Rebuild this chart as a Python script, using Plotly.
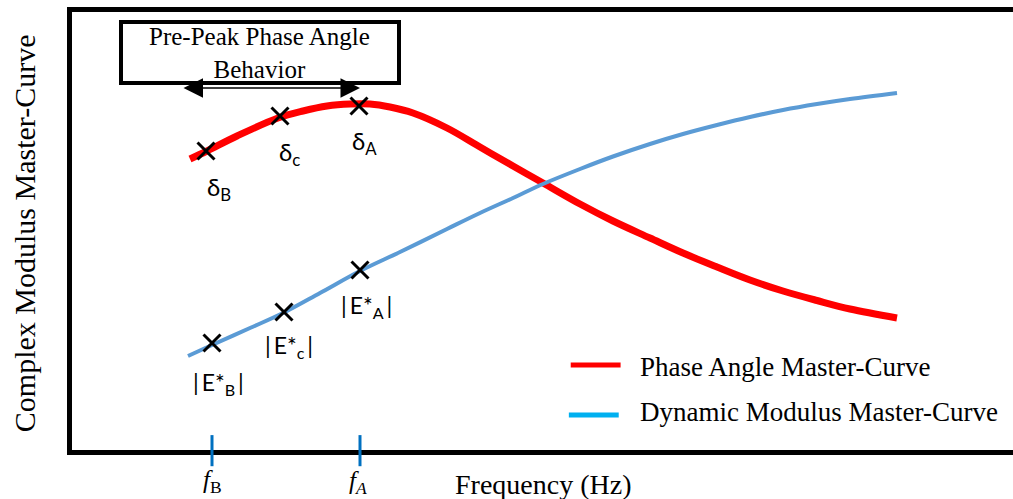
import plotly.graph_objects as go

# Schematic master curves in arbitrary units (x: log reduced frequency)
freq_phase = [1.18, 1.35, 1.65, 2.06, 2.31, 2.55, 2.78, 2.98, 3.18, 3.41, 3.75, 4.08,
              4.41, 4.71, 5.08, 5.41, 5.78, 6.11, 6.45, 6.78, 7.11, 7.45, 7.78, 8.25]
phase_angle = [2.91, 2.99, 3.14, 3.32, 3.39, 3.44, 3.46, 3.46, 3.43, 3.37, 3.22, 3.03,
               2.84, 2.67, 2.46, 2.29, 2.12, 1.97, 1.83, 1.70, 1.59, 1.495, 1.41, 1.32]

freq_mod = [1.16, 1.40, 1.78, 2.11, 2.48, 2.88, 3.28, 3.75, 4.08, 4.41, 4.71,
            5.08, 5.41, 5.78, 6.11, 6.45, 6.78, 7.11, 7.45, 7.78, 8.25]
dyn_modulus = [0.94, 1.05, 1.22, 1.37, 1.57, 1.79, 1.98, 2.21, 2.37, 2.52, 2.66,
               2.81, 2.935, 3.06, 3.16, 3.25, 3.33, 3.40, 3.46, 3.51, 3.57]

# Marked points B, c, A on each curve
point_keys = ["B", "c", "A"]
phase_pt_x = [1.34, 2.08, 2.87]
phase_pt_y = [2.99, 3.34, 3.44]
mod_pt_x = [1.40, 2.12, 2.88]
mod_pt_y = [1.07, 1.38, 1.80]

# Frequency marks on the x axis
freq_marks = {"B": mod_pt_x[0], "A": mod_pt_x[2]}

RED = "#FF0000"
BLUE = "#5B9BD5"
LEGEND_BLUE = "#00B0F0"
TICK_BLUE = "#0070C0"
SERIF = "Liberation Serif, Times New Roman, serif"
SANS = "Lato, Open Sans, sans-serif"

fig = go.Figure()

fig.add_trace(go.Scatter(
    x=freq_phase, y=phase_angle, mode="lines",
    line=dict(color=RED, width=7, shape="spline", smoothing=1.0),
    name="Phase Angle Master-Curve", showlegend=False, hoverinfo="skip"))
fig.add_trace(go.Scatter(
    x=freq_mod, y=dyn_modulus, mode="lines",
    line=dict(color=BLUE, width=4, shape="spline", smoothing=1.0),
    name="Dynamic Modulus Master-Curve", showlegend=False, hoverinfo="skip"))

marker_style = dict(symbol="x-thin", size=17, color="black",
                    line=dict(color="black", width=3))
fig.add_trace(go.Scatter(x=phase_pt_x, y=phase_pt_y, mode="markers",
                         marker=marker_style, showlegend=False))
fig.add_trace(go.Scatter(x=mod_pt_x, y=mod_pt_y, mode="markers",
                         marker=marker_style, showlegend=False))

annotations = []

# Point labels (offsets in pixels from each marker)
delta_shift = [(13, -37), (9, -37), (5, -36)]
mod_shift = [(6, -40), (5, -34), (6, -36)]
for k, x, y, (dx, dy) in zip(point_keys, phase_pt_x, phase_pt_y, delta_shift):
    annotations.append(dict(x=x, y=y, xref="x", yref="y", xshift=dx, yshift=dy,
                            text=f"δ<sub>{k}</sub>", showarrow=False,
                            font=dict(family=SANS, size=24, color="black")))
for k, x, y, (dx, dy) in zip(point_keys, mod_pt_x, mod_pt_y, mod_shift):
    annotations.append(dict(x=x, y=y, xref="x", yref="y", xshift=dx, yshift=dy,
                            text=f"|\u2009E*<sub>{k}</sub>\u2009|", showarrow=False,
                            font=dict(family=SANS, size=23, color="black")))

# Frequency labels below the axis
annotations.append(dict(x=freq_marks["B"], y=-0.072, xref="x", yref="paper",
                        xanchor="center", yanchor="middle",
                        text="<i>f</i><sub>B</sub>", showarrow=False,
                        font=dict(family=SERIF, size=25, color="black")))
annotations.append(dict(x=freq_marks["A"], y=-0.074, xref="x", yref="paper",
                        xanchor="center", yanchor="middle", xshift=-2,
                        text="<i>f<sub>A</sub></i>", showarrow=False,
                        font=dict(family=SERIF, size=25, color="black")))

# Boxed note with double-headed arrow
annotations.append(dict(x=1.87, y=3.97, xref="x", yref="y",
                        text="Pre-Peak Phase Angle<br>Behavior", showarrow=False,
                        font=dict(family=SERIF, size=25, color="black")))
annotations.append(dict(x=2.88, y=3.62, ax=1.10, ay=3.62, xref="x", yref="y",
                        axref="x", ayref="y", text="", showarrow=True,
                        arrowside="end+start", arrowhead=2, arrowsize=2.6,
                        arrowwidth=1.5, arrowcolor="black"))

# Axis titles
annotations.append(dict(x=0.5005, y=-0.078, xref="paper", yref="paper",
                        xanchor="center", yanchor="middle",
                        text="Frequency (Hz)", showarrow=False,
                        font=dict(family=SERIF, size=28, color="black")))
annotations.append(dict(x=-0.051, y=0.495, xref="paper", yref="paper",
                        xanchor="center", yanchor="middle",
                        text="Complex Modulus Master-Curve", textangle=-90,
                        showarrow=False,
                        font=dict(family=SERIF, size=30, color="black")))

# Legend
legend_items = [("Phase Angle Master-Curve", RED, 0.194, 0.190, 0.530),
                ("Dynamic Modulus Master-Curve", LEGEND_BLUE, 0.080, 0.087, 0.528)]
shapes = []
for label, color, ly, ty, lx in legend_items:
    shapes.append(dict(type="line", xref="paper", yref="paper",
                       x0=lx, x1=lx + 0.053, y0=ly, y1=ly,
                       line=dict(color=color, width=5)))
    annotations.append(dict(x=0.601, y=ty, xref="paper", yref="paper",
                            xanchor="left", yanchor="middle", text=label,
                            showarrow=False,
                            font=dict(family=SERIF, size=27, color="black")))

# Box around the note
shapes.append(dict(type="rect", xref="x", yref="y", x0=0.49, x1=3.27, y0=3.67, y1=4.28,
                   line=dict(color="black", width=4), fillcolor="white", layer="below"))

# Blue frequency ticks crossing the x axis line
for key in ["B", "A"]:
    shapes.append(dict(type="line", xref="x", yref="paper",
                       x0=freq_marks[key], x1=freq_marks[key], y0=0.034, y1=-0.037,
                       line=dict(color=TICK_BLUE, width=3), layer="above"))

fig.update_layout(
    width=1013, height=499,
    margin=dict(l=72, r=0, t=12, b=49),
    paper_bgcolor="white", plot_bgcolor="white",
    showlegend=False,
    xaxis=dict(range=[0, 9.41], showgrid=False, zeroline=False, showticklabels=False,
               ticks="", showline=True, linecolor="black", linewidth=5, mirror=True),
    yaxis=dict(range=[0, 4.38], showgrid=False, zeroline=False, showticklabels=False,
               ticks="", showline=True, linecolor="black", linewidth=5, mirror=False),
    annotations=annotations,
    shapes=shapes,
)

fig.write_html("out.html")
